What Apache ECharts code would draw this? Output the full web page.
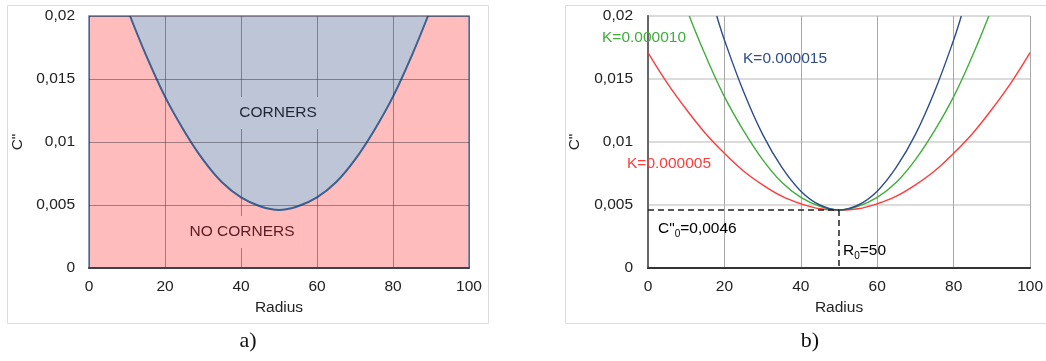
<!DOCTYPE html>
<html><head><meta charset="utf-8">
<script src="https://cdn.jsdelivr.net/npm/echarts@6/dist/echarts.min.js"></script>
<style>html,body{margin:0;padding:0;background:#fff}#c{width:1046px;height:361px}</style>
</head><body><div id="c"></div>
<script>
// ---- data ----
const yTickLabels = ['0', '0,005', '0,01', '0,015', '0,02'];
const xTickLabels = ['0', '20', '40', '60', '80', '100'];
// panel a) boundary curve (K ≈ 0.000010)
const radiusA = [10.8, 15, 20, 25, 30, 35, 40, 45, 50, 55, 60, 65, 70, 75, 80, 85, 89.2];
const boundaryA = [0.02, 0.0169, 0.0136, 0.0109, 0.0086, 0.0068, 0.0056, 0.0049, 0.0046, 0.0049, 0.0056, 0.0068, 0.0086, 0.0109, 0.0136, 0.0169, 0.02];
// panel b) curves
const radiusK5 = [0, 5, 10, 15, 20, 25, 30, 35, 40, 45, 50, 55, 60, 65, 70, 75, 80, 85, 90, 95, 100];
const curveK5 = [0.0171, 0.0147, 0.0126, 0.0107, 0.0091, 0.0077, 0.0066, 0.0057, 0.0051, 0.0047, 0.0046, 0.0047, 0.0051, 0.0057, 0.0066, 0.0077, 0.0091, 0.0107, 0.0126, 0.0147, 0.0171];
const radiusK10 = [10.8, 15, 20, 25, 30, 35, 40, 45, 50, 55, 60, 65, 70, 75, 80, 85, 89.2];
const curveK10 = [0.02, 0.0169, 0.0136, 0.0109, 0.0086, 0.0068, 0.0056, 0.0049, 0.0046, 0.0049, 0.0056, 0.0068, 0.0086, 0.0109, 0.0136, 0.0169, 0.02];
const radiusK15 = [18, 20, 25, 30, 35, 40, 45, 50, 55, 60, 65, 70, 75, 80, 82];
const curveK15 = [0.02, 0.0181, 0.0140, 0.0106, 0.0080, 0.0061, 0.0050, 0.0046, 0.0050, 0.0061, 0.0080, 0.0106, 0.0140, 0.0181, 0.02];
const R0 = 50;
const C0 = 0.0046;

const FONT = 'Liberation Sans, Arial, sans-serif';
const FS = 15.5;
const TXT = '#222';
const pairs = (xs, ys) => xs.map((x, i) => [x, ys[i]]);

const chart = echarts.init(document.getElementById('c'), null, {renderer: 'canvas'});

function xAxisCfg(gridIndex, opts) {
  return Object.assign({
    type: 'value', gridIndex, min: 0, max: 100, interval: 20,
    name: 'Radius', nameLocation: 'middle', nameGap: 31,
    nameTextStyle: {fontFamily: FONT, fontSize: FS, color: TXT},
    axisTick: {show: false},
    axisLabel: {fontFamily: FONT, fontSize: FS, color: TXT, margin: 11,
      formatter: (v, i) => xTickLabels[i]},
  }, opts);
}
function yAxisCfg(gridIndex, opts) {
  return Object.assign({
    type: 'value', gridIndex, min: 0, max: 0.02, interval: 0.005,
    name: 'C"', nameLocation: 'middle', nameGap: 63,
    nameTextStyle: {fontFamily: FONT, fontSize: FS, color: TXT},
    axisTick: {show: false},
    axisLabel: {fontFamily: FONT, fontSize: FS, color: TXT, margin: 14,
      formatter: (v, i) => yTickLabels[i]},
  }, opts);
}

const option = {
  animation: false,
  backgroundColor: '#fff',
  grid: [
    {left: 89, top: 16, width: 380, height: 252, show: true,
     backgroundColor: '#ffbcbc', borderColor: '#5e7ca8', borderWidth: 1.5},
    {left: 648, top: 16, right: 12, height: 252, show: false}
  ],
  xAxis: [
    xAxisCfg(0, {z: 3,
      axisLine: {show: true, lineStyle: {color: '#3a4250', width: 2}},
      splitLine: {show: true, lineStyle: {color: 'rgba(50,40,55,0.45)', width: 1}}}),
    xAxisCfg(1, {
      axisLine: {show: true, lineStyle: {color: '#333', width: 2}},
      splitLine: {show: true, lineStyle: {color: '#a8a8a8', width: 1}}})
  ],
  yAxis: [
    yAxisCfg(0, {z: 3,
      axisLine: {show: false},
      splitLine: {show: true, lineStyle: {color: 'rgba(50,40,55,0.45)', width: 1}}}),
    yAxisCfg(1, {nameGap: 65, axisLabel: {fontFamily: FONT, fontSize: FS, color: TXT, margin: 15,
        formatter: (v, i) => yTickLabels[i]},
      axisLine: {show: true, lineStyle: {color: '#666', width: 2}},
      splitLine: {show: true, lineStyle: {color: '#cfcfcf', width: 1.5}}})
  ],
  series: [
    {type: 'line', xAxisIndex: 0, yAxisIndex: 0, data: pairs(radiusA, boundaryA),
     smooth: 0.4, symbol: 'none', z: 2,
     lineStyle: {color: '#3c6090', width: 2},
     areaStyle: {origin: 'end', color: '#bec5d6', opacity: 1}},
    {type: 'line', xAxisIndex: 1, yAxisIndex: 1, data: pairs(radiusK5, curveK5),
     smooth: 0.4, symbol: 'none', lineStyle: {color: '#ff3b3b', width: 1.4},
     markLine: {silent: true, symbol: 'none', label: {show: false},
       lineStyle: {color: '#222', type: [6, 4], width: 1.5},
       data: [
         [{coord: [0, C0]}, {coord: [R0, C0]}],
         [{coord: [R0, C0]}, {coord: [R0, 0]}]
       ]}},
    {type: 'line', xAxisIndex: 1, yAxisIndex: 1, data: pairs(radiusK10, curveK10),
     smooth: 0.4, symbol: 'none', lineStyle: {color: '#3fae3a', width: 1.4}},
    {type: 'line', xAxisIndex: 1, yAxisIndex: 1, data: pairs(radiusK15, curveK15),
     smooth: 0.4, symbol: 'none', lineStyle: {color: '#2d4c8c', width: 1.4}}
  ],
  graphic: [
    {type: 'rect', z: 0, silent: true, shape: {x: 7.5, y: 5.5, width: 481, height: 318},
     style: {fill: 'none', stroke: '#dcdcdc', lineWidth: 1}},
    {type: 'rect', z: 0, silent: true, shape: {x: 565.5, y: 5.5, width: 500, height: 318},
     style: {fill: 'none', stroke: '#dcdcdc', lineWidth: 1}},
    {type: 'text', z: 10, x: 278, y: 113, style: {text: 'CORNERS', font: FS + 'px ' + FONT,
      fill: '#1e2533', align: 'center', verticalAlign: 'middle',
      backgroundColor: '#bec5d6', padding: [8, 4, 8, 4]}},
    {type: 'text', z: 10, x: 242, y: 232, style: {text: 'NO CORNERS', font: FS + 'px ' + FONT,
      fill: '#5a1c22', align: 'center', verticalAlign: 'middle',
      backgroundColor: '#ffbcbc', padding: [8, 4, 8, 4]}},
    {type: 'text', z: 10, x: 602, y: 38, style: {text: 'K=0.000010', font: '15.5px ' + FONT,
      fill: '#3fae3a', align: 'left', verticalAlign: 'middle'}},
    {type: 'text', z: 10, x: 743, y: 59, style: {text: 'K=0.000015', font: '15.5px ' + FONT,
      fill: '#2d4c8c', align: 'left', verticalAlign: 'middle'}},
    {type: 'text', z: 10, x: 627, y: 164, style: {text: 'K=0.000005', font: '15.5px ' + FONT,
      fill: '#ff3b3b', align: 'left', verticalAlign: 'middle'}},
    {type: 'text', z: 10, x: 658, y: 229, style: {
      text: '{a|C"}{s|0}{a|=0,0046}', verticalAlign: 'middle', align: 'left',
      rich: {a: {fontFamily: FONT, fontSize: 15.5, color: TXT},
             s: {fontFamily: FONT, fontSize: 10, color: TXT, padding: [10, 0, 0, 0]}}}},
    {type: 'text', z: 10, x: 843, y: 251, style: {
      text: '{a|R}{s|0}{a|=50}', verticalAlign: 'middle', align: 'left',
      rich: {a: {fontFamily: FONT, fontSize: 15.5, color: TXT},
             s: {fontFamily: FONT, fontSize: 10, color: TXT, padding: [10, 0, 0, 0]}}}},
    {type: 'text', z: 10, x: 248, y: 341, style: {text: 'a)', font: '22px Liberation Serif, serif',
      fill: '#111', align: 'center', verticalAlign: 'middle'}},
    {type: 'text', z: 10, x: 810, y: 341, style: {text: 'b)', font: '22px Liberation Serif, serif',
      fill: '#111', align: 'center', verticalAlign: 'middle'}}
  ]
};
chart.setOption(option);
</script></body></html>
